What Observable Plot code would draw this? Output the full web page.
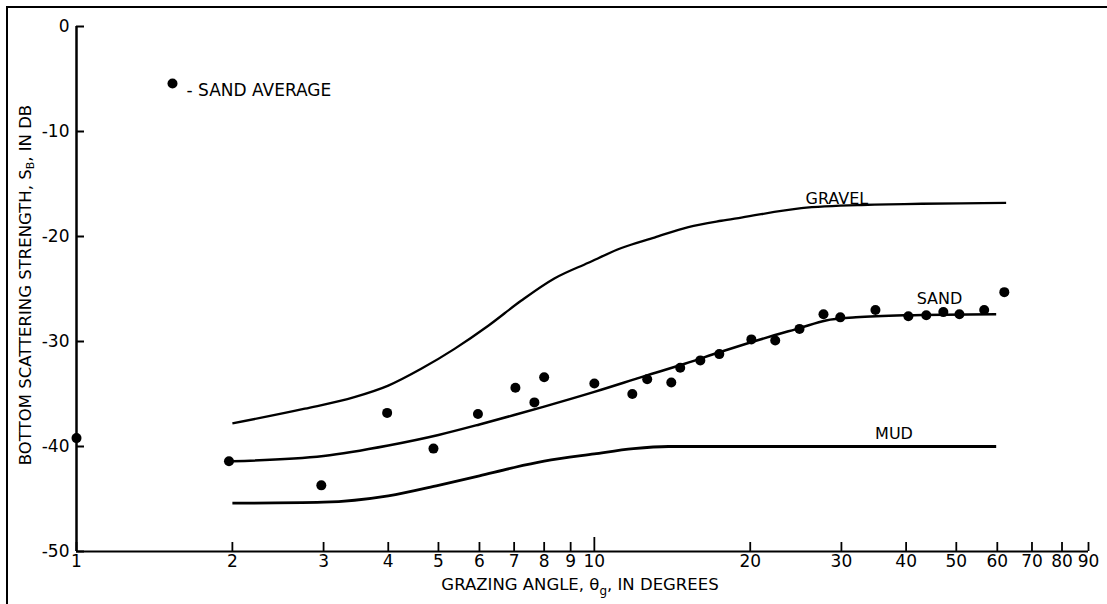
<!DOCTYPE html>
<html>
<head>
<meta charset="utf-8">
<script src="https://cdn.jsdelivr.net/npm/d3@7"></script>
<script src="https://cdn.jsdelivr.net/npm/@observablehq/plot@0.6"></script>
<style>
  html, body { margin: 0; padding: 0; background: #fff; }
  #wrap { position: relative; width: 1107px; height: 604px; overflow: hidden; }
  #frame { position: absolute; left: 6px; top: 6px; right: -4px; bottom: -4px;
           border-left: 2px solid #000; border-top: 2px solid #000; pointer-events: none; }
</style>
</head>
<body>
<div id="wrap"><div id="chart"></div><div id="frame"></div></div>
<script>
// ---- data ----
const xTicks = [1, 2, 3, 4, 5, 6, 7, 8, 9, 10, 20, 30, 40, 50, 60, 70, 80, 90];
const yTicks = [0, -10, -20, -30, -40, -50];

const gravelX = [2, 2.76, 3.44, 4.0, 4.63, 5.37, 6.24, 7.23, 8.37, 9.74, 11.28, 13.06, 15.19, 17.59, 19.22, 25.1, 32.8, 62.4];
const gravelY = [-37.8, -36.4, -35.3, -34.2, -32.6, -30.7, -28.5, -26.1, -24.0, -22.5, -21.1, -20.1, -19.1, -18.5, -18.2, -17.3, -17.0, -16.8];

const sandX = [2, 3, 4, 5, 6, 7, 8, 10, 12.5, 15, 17.5, 20, 25, 28, 32, 40, 59.7];
const sandY = [-41.4, -40.9, -39.9, -38.9, -37.9, -37.0, -36.2, -34.8, -33.3, -32.1, -31.0, -30.1, -28.7, -28.0, -27.7, -27.5, -27.4];

const mudX = [2, 3, 4, 5, 6, 7, 8, 10, 11.9, 13.9, 20, 30, 59.7];
const mudY = [-45.4, -45.3, -44.7, -43.7, -42.8, -42.0, -41.4, -40.7, -40.2, -40.0, -40.0, -40.0, -40.0];

const sandAvgX = [1, 1.97, 2.97, 3.98, 4.89, 5.96, 7.04, 7.66, 8.0, 10, 11.84, 12.65, 14.08, 14.65, 16.02, 17.43, 20.1, 22.35, 24.9, 27.7, 29.85, 34.9, 40.4, 43.75, 47.2, 50.7, 56.6, 61.9];
const sandAvgY = [-39.2, -41.4, -43.7, -36.8, -40.2, -36.9, -34.4, -35.8, -33.4, -34.0, -35.0, -33.6, -33.9, -32.5, -31.8, -31.2, -29.8, -29.9, -28.8, -27.4, -27.7, -27.0, -27.6, -27.5, -27.2, -27.4, -27.0, -25.3];

const curveNames = ["GRAVEL", "SAND", "MUD"];
const curveLabelX = [29.4, 46.4, 37.9];
const curveLabelY = [-16.4, -25.9, -38.8];

const legendText = "- SAND AVERAGE";

// ---- build tables ----
const toRows = (xs, ys) => xs.map((x, i) => ({x, y: ys[i]}));
const gravel = toRows(gravelX, gravelY);
const sand = toRows(sandX, sandY);
const mud = toRows(mudX, mudY);
const sandAvg = toRows(sandAvgX, sandAvgY);
const labels = curveNames.map((t, i) => ({t, x: curveLabelX[i], y: curveLabelY[i]}));

const FONT = "'DejaVu Sans', 'Liberation Sans', sans-serif";
const lineOpts = {x: "x", y: "y", curve: "monotone-x", stroke: "#000", strokeWidth: 2.5, strokeLinecap: "butt"};

const chart = Plot.plot({
  width: 1107,
  height: 604,
  marginLeft: 76,
  marginRight: 19,
  marginTop: 26,
  marginBottom: 53,
  style: {fontFamily: FONT, fontSize: "16px", color: "#000", background: "transparent"},
  x: {type: "log", domain: [1, 90]},
  y: {domain: [-50, 0]},
  marks: [
    // tick marks (pointing inward)
    Plot.axisX(xTicks.filter(d => d !== 10), {tickSize: -9, fill: "none", label: null, strokeWidth: 1.8}),
    Plot.axisX([10], {tickSize: -14, fill: "none", label: null, strokeWidth: 1.8}),
    Plot.axisY(yTicks, {tickSize: -8, fill: "none", label: null, strokeWidth: 2}),
    // tick labels
    Plot.text(xTicks, {x: d => d, frameAnchor: "bottom", dy: 15, text: d => String(d), fontSize: 17, fill: "#000"}),
    Plot.text(yTicks, {y: d => d, frameAnchor: "left", dx: -7, textAnchor: "end", text: d => String(d), fontSize: 17, fill: "#000"}),
    // axis lines
    Plot.ruleX([1], {stroke: "#000", strokeWidth: 2.5}),
    Plot.ruleY([-50], {stroke: "#000", strokeWidth: 2.2}),
    // curves
    Plot.line(gravel, {...lineOpts, strokeWidth: 2.3}),
    Plot.line(sand, lineOpts),
    Plot.line(mud, {...lineOpts, strokeWidth: 2.8}),
    // data points
    Plot.dot(sandAvg, {x: "x", y: "y", r: 5, fill: "#000", stroke: "none"}),
    // curve labels
    Plot.text(labels, {x: "x", y: "y", text: "t", fontSize: 16, fill: "#000"}),
    // legend inside the frame
    Plot.dot([legendText], {frameAnchor: "top-left", dx: 96, dy: 57, r: 5, fill: "#000", stroke: "none"}),
    Plot.text([legendText], {frameAnchor: "top-left", dx: 110, dy: 57, text: d => d, textAnchor: "start", fontSize: 17, fill: "#000", fontWeight: 500})
  ]
});

document.getElementById("chart").appendChild(chart);

// axis titles with subscripts
const svg = d3.select(chart);
const yl = svg.append("text")
  .attr("transform", "translate(26,285) rotate(-90)")
  .attr("text-anchor", "middle")
  .attr("dominant-baseline", "middle")
  .attr("font-family", FONT)
  .attr("font-size", 16.5)
  .attr("fill", "#000");
yl.append("tspan").text("BOTTOM SCATTERING STRENGTH, S");
yl.append("tspan").attr("font-size", 11).attr("dy", 5).text("B");
yl.append("tspan").attr("dy", -5).text(", IN DB");

const xl = svg.append("text")
  .attr("x", 580)
  .attr("y", 590)
  .attr("text-anchor", "middle")
  .attr("font-family", FONT)
  .attr("font-size", 16.5)
  .attr("fill", "#000");
xl.append("tspan").text("GRAZING ANGLE, \u03B8");
xl.append("tspan").attr("font-size", 12).attr("dy", 5).text("g");
xl.append("tspan").attr("dy", -5).text(", IN DEGREES");
</script>
</body>
</html>
